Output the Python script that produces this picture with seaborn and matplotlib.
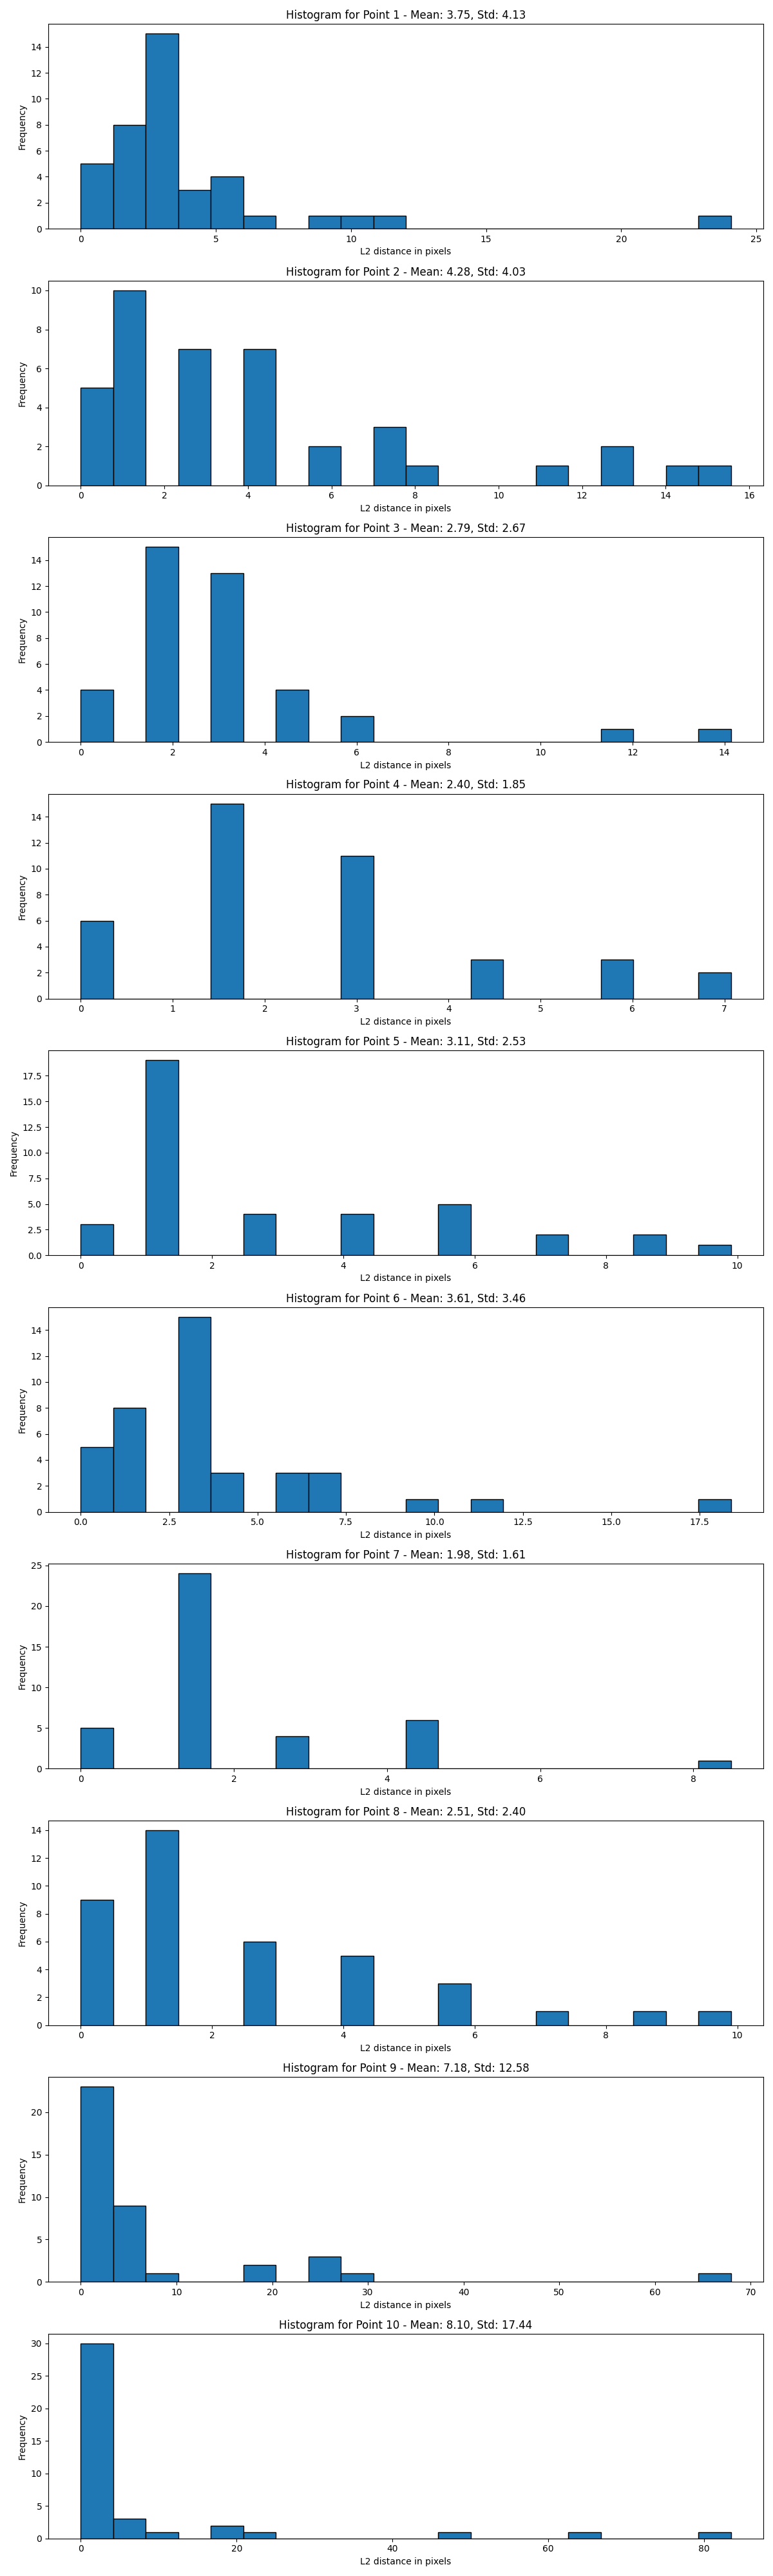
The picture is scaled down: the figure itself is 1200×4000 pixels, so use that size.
import numpy as np
import pandas as pd
import matplotlib
matplotlib.use('Agg')
from matplotlib import pyplot as plt
import seaborn as sns

# per-point histogram summary: 20 equal bins from 0 to max distance
pointNames = ['Point 1', 'Point 2', 'Point 3', 'Point 4', 'Point 5',
              'Point 6', 'Point 7', 'Point 8', 'Point 9', 'Point 10']
means = [3.75, 4.28, 2.79, 2.40, 3.11, 3.61, 1.98, 2.51, 7.18, 8.10]
stds = [4.13, 4.03, 2.67, 1.85, 2.53, 3.46, 1.61, 2.40, 12.58, 17.44]
maxDist = [24.06, 15.56, 14.14, 7.07, 9.90, 18.38, 8.49, 9.90, 67.94, 83.45]

counts1 = [5, 8, 15, 3, 4, 1, 0, 1, 1, 1, 0, 0, 0, 0, 0, 0, 0, 0, 0, 1]
counts2 = [5, 10, 0, 7, 0, 7, 0, 2, 0, 3, 1, 0, 0, 0, 1, 0, 2, 0, 1, 1]
counts3 = [4, 0, 15, 0, 13, 0, 4, 0, 2, 0, 0, 0, 0, 0, 0, 0, 1, 0, 0, 1]
counts4 = [6, 0, 0, 0, 15, 0, 0, 0, 11, 0, 0, 0, 3, 0, 0, 0, 3, 0, 0, 2]
counts5 = [3, 0, 19, 0, 0, 4, 0, 0, 4, 0, 0, 5, 0, 0, 2, 0, 0, 2, 0, 1]
counts6 = [5, 8, 0, 15, 3, 0, 3, 3, 0, 0, 1, 0, 1, 0, 0, 0, 0, 0, 0, 1]
counts7 = [5, 0, 0, 24, 0, 0, 4, 0, 0, 0, 6, 0, 0, 0, 0, 0, 0, 0, 0, 1]
counts8 = [9, 0, 14, 0, 0, 6, 0, 0, 5, 0, 0, 3, 0, 0, 1, 0, 0, 1, 0, 1]
counts9 = [23, 9, 1, 0, 0, 2, 0, 3, 1, 0, 0, 0, 0, 0, 0, 0, 0, 0, 0, 1]
counts10 = [30, 3, 1, 0, 2, 1, 0, 0, 0, 0, 0, 1, 0, 0, 0, 1, 0, 0, 0, 1]
allCounts = [counts1, counts2, counts3, counts4, counts5,
             counts6, counts7, counts8, counts9, counts10]

fig, axes = plt.subplots(10, 1, figsize=(12, 40), dpi=100)

for i, ax in enumerate(axes):
    edges = np.linspace(0, maxDist[i], 21)
    centers = (edges[:-1] + edges[1:]) / 2
    df = pd.DataFrame({'dist': centers, 'count': allCounts[i]})
    sns.histplot(data=df, x='dist', weights='count', bins=20, binrange=(0, maxDist[i]),
                 ax=ax, color='#1f77b4', edgecolor='black', linewidth=1, alpha=1)
    # same 5% side padding as plain plt.hist
    pad = 0.05 * maxDist[i]
    ax.set_xlim(-pad, maxDist[i] + pad)
    ax.set_title(f'Histogram for {pointNames[i]} - Mean: {means[i]:.2f}, Std: {stds[i]:.2f}')
    ax.set_xlabel('L2 distance in pixels')
    ax.set_ylabel('Frequency')

plt.tight_layout()
plt.savefig('out.png')
plt.close()
